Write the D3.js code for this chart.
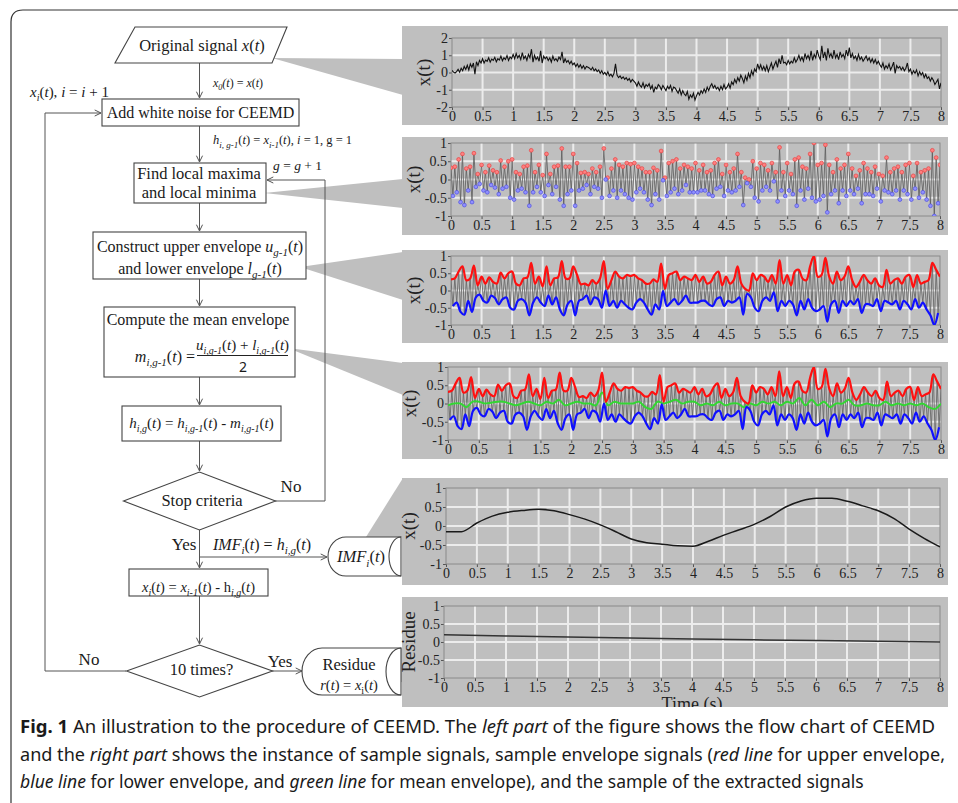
<!DOCTYPE html>
<html><head><meta charset="utf-8">
<script src="https://cdn.jsdelivr.net/npm/d3@7"></script>
<style>
body{margin:0;background:#fff;}
svg{display:block;}
</style></head><body>
<svg id="fig" width="958" height="803"></svg>
<script>
// ---------- data ----------
const xTicks = [0,0.5,1,1.5,2,2.5,3,3.5,4,4.5,5,5.5,6,6.5,7,7.5,8];
const yTicksWide = [-2,-1,0,1,2];
const yTicksUnit = [-1,-0.5,0,0.5,1];

// original noisy signal, sampled every 0.025 s over 0..8 s
const rawStep = 0.025;
const rawSignal = [
  0.12,0.02,-0.03,0.05,0.18,0.02,0.25,0.10,0.35,0.18,0.42,0.15,0.50,0.30,0.55,-0.10,0.62,0.40,0.70,0.55,
  0.80,0.55,0.72,0.65,0.85,0.60,0.78,0.70,0.88,0.62,0.80,0.72,0.95,0.68,0.85,0.75,0.98,0.70,0.90,0.80,
  1.05,0.80,1.10,0.85,1.00,0.75,1.15,0.80,0.95,0.70,1.05,0.85,1.35,0.60,1.00,0.75,0.90,0.65,1.25,0.55,
  0.95,0.80,0.90,0.70,0.85,0.60,0.95,0.70,0.80,0.65,0.90,0.75,1.20,0.55,0.80,0.60,0.70,0.50,0.65,0.45,
  0.55,0.35,0.50,0.30,0.45,0.25,0.40,0.20,0.35,0.30,0.25,0.15,0.30,0.10,0.20,0.05,0.15,-0.05,0.10,-0.10,
  0.00,-0.15,0.05,-0.20,-0.10,-0.25,-0.05,0.50,-0.15,-0.30,-0.20,-0.35,-0.25,-0.40,-0.30,-0.45,-0.35,-0.55,-0.40,-0.50,
  -0.60,-0.80,-0.55,-0.75,-0.85,-0.60,-0.90,-0.70,-0.80,-0.65,-0.95,-0.75,-1.15,-0.85,-0.95,-0.70,-0.80,-1.00,-0.75,-0.90,
  -1.05,-0.80,-0.95,-0.75,-1.10,-0.85,-0.90,-1.05,-1.20,-0.95,-1.30,-1.05,-1.25,-1.35,-1.10,-1.55,-1.30,-1.45,-1.20,-1.60,
  -1.35,-1.15,-1.30,-1.05,-1.20,-0.95,-1.15,-0.85,-1.05,-0.80,-0.65,-0.90,-0.75,-0.95,-0.85,-1.05,-0.80,-1.00,-0.70,-0.95,
  -0.85,-0.65,-0.90,-0.55,-0.70,-0.40,-0.60,-0.30,-0.50,-0.15,-0.35,-0.60,-0.20,-0.45,-0.05,-0.30,0.10,-0.15,0.20,0.05,
  0.50,0.20,0.45,0.15,0.35,0.10,0.40,0.05,0.30,0.55,0.20,0.45,0.65,0.30,0.80,0.50,1.00,0.55,0.60,0.45,
  0.70,0.50,0.65,0.55,0.85,0.60,0.75,1.00,0.70,0.90,0.65,1.10,0.80,1.00,0.75,1.25,0.70,1.05,0.85,1.30,
  0.95,0.75,1.55,0.85,1.20,0.70,1.40,0.90,1.10,0.80,1.30,0.85,1.05,0.75,1.20,0.90,1.05,0.80,1.30,0.95,
  1.45,0.85,1.10,0.80,0.95,0.70,1.05,0.75,0.90,0.65,0.80,0.95,0.70,0.85,0.60,0.80,0.55,0.75,0.50,0.65,
  0.45,0.30,0.55,0.20,0.40,0.25,0.50,0.15,0.35,0.60,-0.05,0.40,0.25,0.35,0.15,0.30,0.10,0.25,0.55,0.05,
  0.20,-0.10,0.10,-0.05,0.15,-0.20,0.05,-0.15,0.00,-0.30,-0.10,-0.35,-0.25,-0.50,-0.30,-0.45,-0.70,-0.55,-0.40,-0.95,
  -0.60
];

// local maxima (every 0.0625 s from 0) and local minima (offset by half a step)
const extremaStep = 0.0625;
const maxima = [
  0.32,0.35,0.55,0.70,0.30,0.35,0.72,0.15,0.40,0.20,0.38,0.25,0.20,0.52,0.35,0.50,
  0.55,0.20,0.15,0.35,0.38,0.80,0.20,0.40,0.12,0.70,0.15,0.35,0.38,0.85,0.35,0.35,
  0.70,0.45,0.18,0.20,0.15,0.30,0.20,0.35,0.85,0.05,0.30,0.55,0.40,0.35,0.45,0.42,
  0.45,0.35,0.30,0.20,0.20,0.32,0.25,0.78,0.05,0.45,0.50,0.55,0.30,0.40,0.35,0.30,
  0.45,0.25,0.40,0.20,0.25,0.45,0.55,0.15,0.40,0.20,0.30,0.70,0.20,0.05,0.00,0.50,
  0.30,0.45,0.40,0.25,0.45,0.20,0.88,0.20,0.45,0.15,0.55,0.60,0.35,0.30,0.70,1.00,
  0.40,0.45,0.95,0.40,0.20,0.55,0.30,0.40,0.70,0.30,0.10,0.25,0.45,0.30,0.20,0.35,
  0.15,0.10,0.60,0.20,0.30,0.35,0.20,0.40,0.45,0.10,0.45,0.20,0.25,0.30,0.80,0.60,
  0.40
];
const minima = [
  -0.45,-0.35,-0.62,-0.70,-0.30,-0.62,-0.20,-0.12,-0.30,-0.35,-0.15,-0.22,-0.40,-0.25,-0.20,-0.50,
  -0.55,-0.30,-0.25,-0.35,-0.72,-0.35,-0.20,-0.35,-0.45,-0.15,-0.40,-0.20,-0.55,-0.72,-0.40,-0.30,
  -0.72,-0.30,-0.25,-0.15,-0.40,-0.20,-0.25,-0.50,0.00,-0.45,-0.30,-0.50,-0.30,-0.40,-0.50,-0.55,
  -0.35,-0.25,-0.35,-0.55,-0.70,-0.40,-0.55,-0.02,-0.45,-0.35,-0.25,-0.40,-0.30,-0.15,-0.35,-0.35,
  -0.35,-0.30,-0.30,-0.40,-0.45,-0.25,-0.20,-0.45,-0.30,-0.35,-0.30,-0.20,-0.70,-0.10,-0.20,-0.50,
  -0.60,-0.30,-0.20,-0.30,-0.05,-0.60,-0.30,-0.45,-0.30,-0.40,-0.72,-0.30,-0.55,-0.25,-0.50,-0.60,
  -0.55,-0.45,-0.90,-0.40,-0.30,-0.65,-0.30,-0.45,-0.30,-0.40,-0.25,-0.65,-0.40,-0.40,-0.45,-0.25,
  -0.60,-0.30,-0.35,-0.40,-0.30,-0.55,-0.30,-0.40,-0.55,-0.25,-0.50,-0.35,-0.55,-0.72,-1.00,-0.65
];

// mean envelope, every 0.1 s
const meanStep = 0.1;
const meanEnvelope = [
  -0.05,0.00,0.00,-0.10,0.05,0.05,0.00,0.02,0.05,0.05,
  0.00,-0.05,0.00,0.05,0.00,-0.05,0.05,0.00,0.10,-0.05,
  0.00,0.05,0.00,0.00,-0.05,0.30,-0.05,0.05,0.00,0.00,
  0.00,0.05,-0.10,-0.15,0.05,0.00,0.05,0.10,0.00,0.05,
  0.05,-0.05,0.00,-0.05,0.05,-0.05,0.00,0.00,-0.10,0.00,
  -0.05,0.05,0.00,0.05,-0.05,0.05,0.00,0.15,-0.05,0.10,
  -0.05,0.05,-0.10,0.00,0.00,0.10,-0.05,-0.05,0.00,-0.05,
  -0.05,0.05,-0.05,0.00,-0.05,0.00,-0.05,0.00,-0.10,-0.15,
  0.00
];

// extracted intrinsic mode function, every 0.25 s
const imfStep = 0.25;
const imf = [
  -0.15,-0.15,0.08,0.26,0.36,0.41,0.44,0.40,0.30,0.18,0.03,-0.15,
  -0.34,-0.44,-0.48,-0.52,-0.53,-0.40,-0.24,-0.10,0.05,0.25,0.50,0.66,
  0.73,0.73,0.65,0.53,0.40,0.20,-0.08,-0.33,-0.55
];

// residue, every 1 s
const residueStep = 1;
const residue = [0.20,0.17,0.14,0.11,0.08,0.06,0.04,0.02,0.00];

// ---------- helpers ----------
const SERIF = "'Liberation Serif','DejaVu Serif',serif";
const SANS = "'Noto Sans','Open Sans',sans-serif";
const svg = d3.select('#fig');
const fmt = v => String(v);
const toPts = (arr, step, offset=0) => arr.map((v,i) => ({t: offset + i*step, v}));

// text with italic / subscript runs: parts = [[text, flags]] (i = italic, s = subscript, b = bold)
function rich(sel, x, y, parts, size, opts={}) {
  const t = sel.append('text')
    .attr('x', x).attr('y', y)
    .style('font-family', opts.family || SERIF)
    .style('font-size', size + 'px')
    .attr('text-anchor', opts.anchor || 'middle')
    .attr('fill', '#1a1a1a');
  let shift = 0;
  parts.forEach(([s, f='']) => {
    const sp = t.append('tspan').text(s);
    if (f.includes('i')) sp.style('font-style', 'italic');
    if (f.includes('b')) sp.style('font-weight', 'bold');
    const want = f.includes('s') ? Math.round(size*0.28) : 0;
    if (want !== shift) { sp.attr('dy', want - shift); shift = want; }
    if (f.includes('s')) sp.style('font-size', Math.round(size*0.68) + 'px');
  });
  if (opts.len) t.attr('textLength', opts.len).attr('lengthAdjust', 'spacingAndGlyphs');
  return t;
}

// ---------- outer frame ----------
svg.append('path')
  .attr('d', 'M11,803 V22 Q11,10 23,10 H958')
  .attr('fill', 'none').attr('stroke', '#333').attr('stroke-width', 1.2);

// ---------- callout wedges ----------
const PANEL_GRAY = '#bfbfbf';
const wedges = [
  [[272,58],[403,59],[403,95]],
  [[264,193],[403,179],[403,208]],
  [[300,267],[403,252],[403,300]],
  [[288,348],[403,363],[403,395]],
  [[366,537],[403,478],[403,537]],
  [[368,661],[403,647],[403,683]]
];
svg.append('g').selectAll('path').data(wedges).join('path')
  .attr('d', d => 'M' + d.join('L') + 'Z')
  .attr('fill', PANEL_GRAY);

// ---------- signal panels ----------
const panels = [
  {box:[402,26,948,125], plot:[452,941,38,107], dom:[-2,2], yt:yTicksWide, label:'x(t)', lx:423},
  {box:[402,137,948,235], plot:[451,940,143,216], dom:[-1,1], yt:yTicksUnit, label:'x(t)', lx:413},
  {box:[402,250,948,343], plot:[451,940,256,325], dom:[-1,1], yt:yTicksUnit, label:'x(t)', lx:413},
  {box:[402,362,948,459], plot:[448,941,367,440], dom:[-1,1], yt:yTicksUnit, label:'x(t)', lx:409},
  {box:[402,478,948,585], plot:[446,940,488,564], dom:[-1,1], yt:yTicksUnit, label:'x(t)', lx:408},
  {box:[402,597,948,707], plot:[444,940,606,678], dom:[-1,1], yt:yTicksUnit, label:'Residue', lx:408, title:'Time (s)'}
];

const frames = panels.map((p, k) => {
  const [x0,y0,x1,y1] = p.box;
  const [pl,pr,pt,pb] = p.plot;
  const g = svg.append('g');
  g.append('rect').attr('x',x0).attr('y',y0).attr('width',x1-x0).attr('height',y1-y0).attr('fill',PANEL_GRAY);
  const x = d3.scaleLinear([0,8],[pl,pr]);
  const y = d3.scaleLinear(p.dom,[pb,pt]);
  // grid
  g.append('g').selectAll('line').data(xTicks.slice(1,-1)).join('line')
    .attr('x1',d=>x(d)).attr('x2',d=>x(d)).attr('y1',pt).attr('y2',pb)
    .attr('stroke','#ececec').attr('stroke-width',2);
  g.append('g').selectAll('line').data(p.yt.slice(1,-1)).join('line')
    .attr('y1',d=>y(d)).attr('y2',d=>y(d)).attr('x1',pl).attr('x2',pr)
    .attr('stroke','#ececec').attr('stroke-width',2);
  // axes
  const ax = g.append('g').attr('transform',`translate(0,${pb})`)
    .call(d3.axisBottom(x).tickValues(xTicks).tickFormat(fmt).tickSize(3).tickPadding(1));
  const ay = g.append('g').attr('transform',`translate(${pl},0)`)
    .call(d3.axisLeft(y).tickValues(p.yt).tickFormat(fmt).tickSize(3).tickPadding(1));
  [ax, ay].forEach(a => {
    a.attr('font-family', null).attr('font-size', null);
    a.select('.domain').remove();
    a.selectAll('line').attr('stroke','#555');
    a.selectAll('text').style('font-family',SERIF).style('font-size','14px').attr('fill','#222');
  });
  g.append('rect').attr('x',pl).attr('y',pt).attr('width',pr-pl).attr('height',pb-pt)
    .attr('fill','none').attr('stroke','#8a8a8a').attr('stroke-width',1);
  // y label
  g.append('text').attr('transform',`translate(${p.lx},${(pt+pb)/2}) rotate(-90)`)
    .attr('text-anchor','middle').attr('dy','0.35em')
    .style('font-family',SERIF).style('font-size','19px').attr('fill','#222').text(p.label);
  if (p.title) {
    const cid = 'clipbox' + k;
    svg.append('clipPath').attr('id',cid).append('rect')
      .attr('x',x0).attr('y',y0).attr('width',x1-x0).attr('height',y1-y0);
    g.append('text').attr('clip-path',`url(#${cid})`)
      .attr('x',(pl+pr)/2).attr('y',710).attr('text-anchor','middle')
      .style('font-family',SERIF).style('font-size','18px').attr('fill','#222').text(p.title);
  }
  // plot clip
  const pid = 'clipplot' + k;
  svg.append('clipPath').attr('id',pid).append('rect')
    .attr('x',pl).attr('y',pt).attr('width',pr-pl).attr('height',pb-pt);
  const data = g.append('g').attr('clip-path',`url(#${pid})`);
  return {x, y, g: data};
});

const maxPts = toPts(maxima, extremaStep);
const minPts = toPts(minima, extremaStep, extremaStep/2);
const zigzag = d3.merge(maxPts.map((d,i) => minPts[i] ? [d, minPts[i]] : [d]));

function lineOf(f, curve) {
  return d3.line().x(d=>f.x(d.t)).y(d=>f.y(d.v)).curve(curve || d3.curveLinear);
}
const env = d3.curveCatmullRom.alpha(0.5);

// 1: original signal
{
  const f = frames[0];
  f.g.append('path').datum(toPts(rawSignal, rawStep))
    .attr('d', lineOf(f)).attr('fill','none').attr('stroke','#111').attr('stroke-width',1.1);
}
// 2: extrema
{
  const f = frames[1];
  f.g.append('path').datum(zigzag).attr('d', lineOf(f))
    .attr('fill','none').attr('stroke','#5a5a5a').attr('stroke-width',0.8);
  f.g.append('g').selectAll('circle').data(maxPts).join('circle')
    .attr('cx',d=>f.x(d.t)).attr('cy',d=>f.y(d.v)).attr('r',1.9)
    .attr('fill','#ff8080').attr('stroke','#e84545').attr('stroke-width',0.7);
  f.g.append('g').selectAll('circle').data(minPts).join('circle')
    .attr('cx',d=>f.x(d.t)).attr('cy',d=>f.y(d.v)).attr('r',1.9)
    .attr('fill','#9090ff').attr('stroke','#5050e0').attr('stroke-width',0.7);
}
// 3 and 4: envelopes
[2,3].forEach(k => {
  const f = frames[k];
  f.g.append('path').datum(zigzag).attr('d', lineOf(f))
    .attr('fill','none').attr('stroke','#6a6a6a').attr('stroke-width',0.9);
  if (k === 3) {
    f.g.append('path').datum(toPts(meanEnvelope, meanStep)).attr('d', lineOf(f, env))
      .attr('fill','none').attr('stroke','#33d633').attr('stroke-width',2);
  }
  f.g.append('path').datum(maxPts).attr('d', lineOf(f, env))
    .attr('fill','none').attr('stroke','#ff1010').attr('stroke-width',2.2);
  f.g.append('path').datum(minPts).attr('d', lineOf(f, env))
    .attr('fill','none').attr('stroke','#1010ff').attr('stroke-width',2.2);
});
// 5: IMF
{
  const f = frames[4];
  f.g.append('path').datum(toPts(imf, imfStep)).attr('d', lineOf(f, d3.curveMonotoneX))
    .attr('fill','none').attr('stroke','#1a1a1a').attr('stroke-width',1.5);
}
// 6: residue
{
  const f = frames[5];
  f.g.append('path').datum(toPts(residue, residueStep)).attr('d', lineOf(f))
    .attr('fill','none').attr('stroke','#333').attr('stroke-width',1.5);
}

// ---------- flow chart ----------
const fc = svg.append('g');
const LINE = '#555';
function seg(pts, arrow) {
  fc.append('path').attr('d','M'+pts.join('L')).attr('fill','none').attr('stroke',LINE).attr('stroke-width',1);
  if (arrow) {
    const [a,b] = pts.slice(-2);
    const ang = Math.atan2(b[1]-a[1], b[0]-a[0]);
    const L = 7, w = 0.45;
    const p1 = [b[0]-L*Math.cos(ang-w), b[1]-L*Math.sin(ang-w)];
    const p2 = [b[0]-L*Math.cos(ang+w), b[1]-L*Math.sin(ang+w)];
    fc.append('path').attr('d',`M${p1}L${b}L${p2}`).attr('fill','none').attr('stroke',LINE).attr('stroke-width',1);
  }
}
function box(x0,y0,x1,y1) {
  fc.append('rect').attr('x',x0).attr('y',y0).attr('width',x1-x0).attr('height',y1-y0)
    .attr('fill','#fff').attr('stroke','#444').attr('stroke-width',1.1);
}
function diamond(cx,cy,hw,hh) {
  fc.append('path').attr('d',`M${cx-hw},${cy}L${cx},${cy-hh}L${cx+hw},${cy}L${cx},${cy+hh}Z`)
    .attr('fill','#fff').attr('stroke','#444').attr('stroke-width',1.1);
}
function drum(xl, xs, xr, y0, y1, back) {
  const ry = (y1-y0)/2;
  fc.append('path').attr('d',`M${xr},${y0}H${xs}A${xs-xl},${ry} 0 0 0 ${xs},${y1}H${xr}Z`)
    .attr('fill','#fff').attr('stroke','#444').attr('stroke-width',1.1);
  fc.append('path').attr('d',`M${xr},${y0}A${back},${ry} 0 0 0 ${xr},${y1}`)
    .attr('fill','none').attr('stroke','#444').attr('stroke-width',1.1);
}

// connectors
seg([[199.5,63],[199.5,98]], true);
seg([[199.5,126],[199.5,162]], true);
seg([[199.5,203],[199.5,231]], true);
seg([[199.5,279],[199.5,306]], true);
seg([[199.5,377],[199.5,405]], true);
seg([[199.5,441],[199.5,471]], true);
seg([[199.5,529],[199.5,568]], true);
seg([[199.5,596],[199.5,644]], true);
seg([[126,671],[45,671],[45,113],[101,113]], true);
seg([[275,501],[325,501],[325,180],[267,180]], true);
seg([[199.5,557],[327,557]], true);
seg([[272,671],[302,671]], true);

// shapes
fc.append('path').attr('d','M135,27L287,27L272,63L115,63Z')
  .attr('fill','#fff').attr('stroke','#444').attr('stroke-width',1.1);
box(102,99,299,126);
box(134,163,266,203);
box(93,232,306,279);
box(104,307,295,377);
box(122,406,281,441);
diamond(199.5,501,76,29);
box(129,569,268,596);
diamond(199.5,671,73,26);
drum(328,346,401,537,576,12);
drum(302,322,401,648,695,15);

// labels
rich(fc, 202, 51, [['Original signal '],['x','i'],['('],['t','i'],[')']], 16.5);
rich(fc, 213, 87, [['x','i'],['0','is'],['(','i'],['t','i'],[') = '],['x','i'],['('],['t','i'],[')']], 12, {anchor:'start'});
rich(fc, 30, 97, [['x','i'],['i','is'],['('],['t','i'],['), '],['i','i'],[' = '],['i','i'],[' + 1']], 15, {anchor:'start'});
rich(fc, 200.5, 118, [['Add white noise for CEEMD']], 16);
rich(fc, 213, 144, [['h','i'],['i, g-1','is'],['('],['t','i'],[') = '],['x','i'],['i-1','is'],['('],['t','i'],['), '],['i','i'],[' = 1, g = 1']], 12.5, {anchor:'start'});
rich(fc, 199, 179, [['Find local maxima']], 16.5);
rich(fc, 199, 198, [['and local minima']], 16.5);
rich(fc, 273, 170, [['g','i'],[' = '],['g','i'],[' + 1']], 13.5, {anchor:'start'});
rich(fc, 200, 252, [['Construct upper envelope '],['u','i'],['g-1','is'],['('],['t','i'],[')']], 16);
rich(fc, 200, 274, [['and lower envelope '],['l','i'],['g-1','is'],['('],['t','i'],[')']], 16);
rich(fc, 198, 325, [['Compute the mean envelope']], 16);
rich(fc, 195, 362, [['m','i'],['i,g-1','is'],['('],['t','i'],[') =']], 16, {anchor:'end'});
rich(fc, 242.5, 350, [['u','i'],['i,g-1','is'],['('],['t','i'],[') + '],['l','i'],['i,g-1','is'],['('],['t','i'],[')']], 15);
fc.append('line').attr('x1',197).attr('x2',288).attr('y1',355.5).attr('y2',355.5).attr('stroke','#222').attr('stroke-width',1);
rich(fc, 243, 372, [['2']], 14, {family:SANS});
rich(fc, 201.5, 428, [['h','i'],['i,g','is'],['('],['t','i'],[') = '],['h','i'],['i,g-1','is'],['('],['t','i'],[') - '],['m','i'],['i,g-1','is'],['('],['t','i'],[')']], 15);
rich(fc, 202, 506, [['Stop criteria']], 16.5);
rich(fc, 291, 492, [['No']], 17);
rich(fc, 184, 550, [['Yes']], 17);
rich(fc, 213, 550, [['IMF','i'],['i','is'],['('],['t','i'],[')  =  '],['h','i'],['i,g','is'],['('],['t','i'],[')']], 16, {anchor:'start'});
rich(fc, 361, 562, [['IMF','i'],['i','is'],['('],['t','i'],[')']], 16.5);
rich(fc, 198.5, 592, [['x','i'],['i','is'],['('],['t','i'],[') = '],['x','i'],['i-1','is'],['('],['t','i'],[') - h'],['i,g','is'],['('],['t','i'],[')']], 14.5);
rich(fc, 201.5, 675, [['10 times?']], 16.5);
rich(fc, 89, 665, [['No']], 17);
rich(fc, 280, 667, [['Yes']], 17);
rich(fc, 349, 670, [['Residue']], 16.5);
rich(fc, 349, 690, [['r','i'],['('],['t','i'],[') = '],['x','i'],['i','s'],['('],['t','i'],[')']], 14.5);

// ---------- caption ----------
const cap = svg.append('g');
rich(cap, 20, 733, [['Fig. 1','b'],['  An illustration to the procedure of CEEMD. The '],['left part','i'],[' of the figure shows the flow chart of CEEMD']], 17.5, {anchor:'start', family:SANS, len:915});
rich(cap, 20, 761, [['and the '],['right part','i'],[' shows the instance of sample signals, sample envelope signals ('],['red line','i'],[' for upper envelope,']], 17.5, {anchor:'start', family:SANS, len:925});
rich(cap, 20, 788, [['blue line','i'],[' for lower envelope, and '],['green line','i'],[' for mean envelope), and the sample of the extracted signals']], 17.5, {anchor:'start', family:SANS});
</script>
</body></html>
